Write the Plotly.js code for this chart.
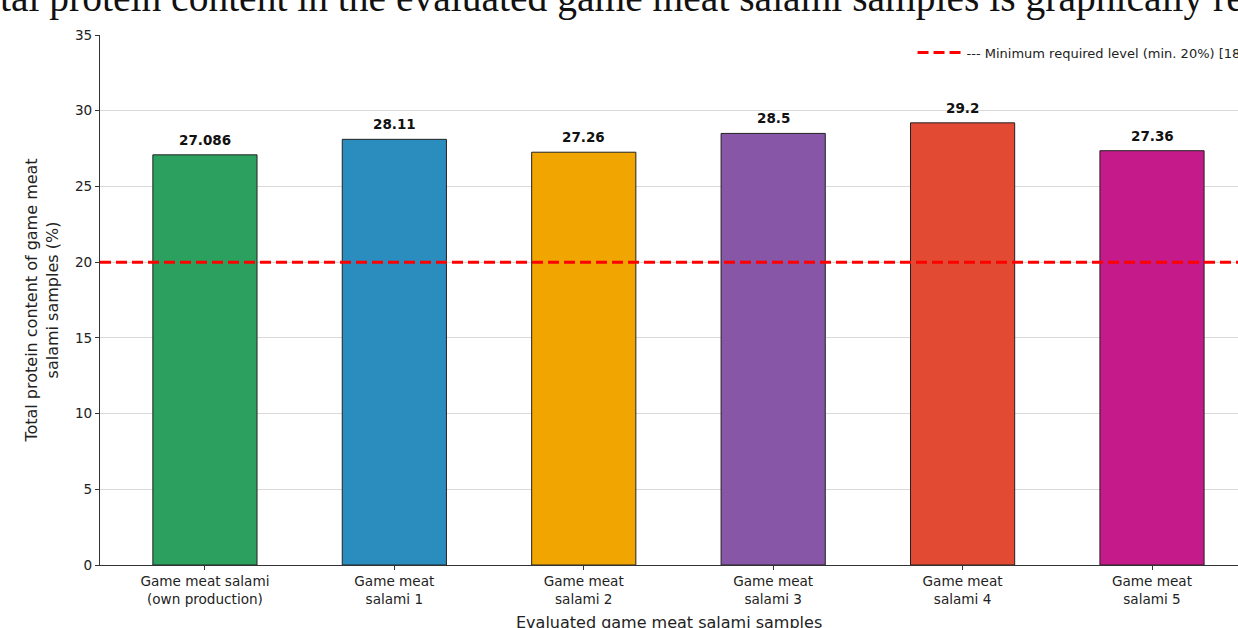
<!DOCTYPE html>
<html>
<head>
<meta charset="utf-8">
<script src="https://cdn.plot.ly/plotly-3.0.1.min.js"></script>
<style>html,body{margin:0;padding:0;background:#fff;overflow:hidden}#chart{width:1238px;height:628px}</style>
</head>
<body>
<div id="chart"></div>
<script>
const categories = [
  "Game meat salami<br>(own production)",
  "Game meat<br>salami 1",
  "Game meat<br>salami 2",
  "Game meat<br>salami 3",
  "Game meat<br>salami 4",
  "Game meat<br>salami 5"
];
const proteinValues = [27.086, 28.11, 27.26, 28.5, 29.2, 27.36];
const valueLabels = ["27.086", "28.11", "27.26", "28.5", "29.2", "27.36"];
const barColors = ["#2ca05f", "#2b8cbe", "#f0a500", "#8856a7", "#e34a33", "#c51b8a"];
const minimumLevel = 20;
const minimumLabel = "--- Minimum required level (min. 20%) [18]";
const yTicks = [0, 5, 10, 15, 20, 25, 30, 35];
const captionText = "tal protein content in the evaluated game meat salami samples is graphically re";
const xTitle = "Evaluated game meat salami samples";

const xPos = categories.map((c, i) => i);

const trace = {
  type: "bar",
  x: xPos,
  y: proteinValues,
  width: 0.55,
  marker: {color: barColors, line: {color: "#222222", width: 1}},
  showlegend: false,
  hoverinfo: "skip"
};

const labelAnnotations = proteinValues.map((v, i) => ({
  text: "<b>" + valueLabels[i] + "</b>",
  xref: "x", x: xPos[i],
  yref: "y", y: v,
  xanchor: "center", yanchor: "bottom",
  yshift: 5,
  showarrow: false,
  font: {family: "DejaVu Sans", size: 13.5, color: "#111111"}
}));

const layout = {
  width: 1238,
  height: 628,
  margin: {l: 100, r: 0, t: 35, b: 63, autoexpand: false},
  paper_bgcolor: "#ffffff",
  plot_bgcolor: "#ffffff",
  font: {family: "DejaVu Sans", color: "#222222", size: 13},
  xaxis: {
    range: [-0.554, 5.454],
    tickmode: "array",
    tickvals: xPos,
    ticktext: categories,
    ticks: "outside",
    ticklen: 4,
    tickcolor: "#333333",
    showline: true,
    linecolor: "#333333",
    linewidth: 1,
    showgrid: false,
    zeroline: false,
    automargin: false,
    tickfont: {family: "DejaVu Sans", size: 13.6, color: "#222222"}
  },
  yaxis: {
    range: [0, 35],
    tickmode: "array",
    tickvals: yTicks,
    ticks: "outside",
    ticklen: 4,
    tickcolor: "#333333",
    showline: true,
    linecolor: "#333333",
    linewidth: 1,
    showgrid: true,
    gridcolor: "#d9d9d9",
    gridwidth: 1,
    zeroline: false,
    automargin: false,
    tickfont: {family: "DejaVu Sans", size: 13.6, color: "#222222"},
    title: {text: "Total protein content of game meat<br>salami samples (%)", font: {family: "DejaVu Sans", size: 16, color: "#222222"}, standoff: 12}
  },
  showlegend: true,
  legend: {
    x: 0.714, xanchor: "left",
    y: 0.995, yanchor: "top",
    bgcolor: "rgba(255,255,255,0.8)",
    borderwidth: 0,
    itemwidth: 44,
    font: {family: "DejaVu Sans", size: 13, color: "#222222"}
  },
  shapes: [{
    type: "line",
    xref: "paper", x0: 0, x1: 1,
    yref: "y", y0: minimumLevel, y1: minimumLevel,
    line: {color: "#ff0000", width: 3, dash: "11px,5px"},
    showlegend: true,
    name: minimumLabel,
    layer: "above"
  }],
  annotations: [{
    text: captionText,
    xref: "paper", x: -102 / 1138, xanchor: "left",
    yref: "paper", y: 1.0245, yanchor: "bottom",
    showarrow: false,
    font: {family: "Liberation Serif", size: 39.5, color: "#111111"}
  }, {
    text: xTitle,
    xref: "paper", x: 0.5, xanchor: "center",
    yref: "paper", y: 0, yanchor: "middle", yshift: -57,
    showarrow: false,
    font: {family: "DejaVu Sans", size: 16, color: "#222222"}
  }].concat(labelAnnotations)
};

Plotly.newPlot("chart", [trace], layout, {displayModeBar: false, staticPlot: true});
</script>
</body>
</html>
